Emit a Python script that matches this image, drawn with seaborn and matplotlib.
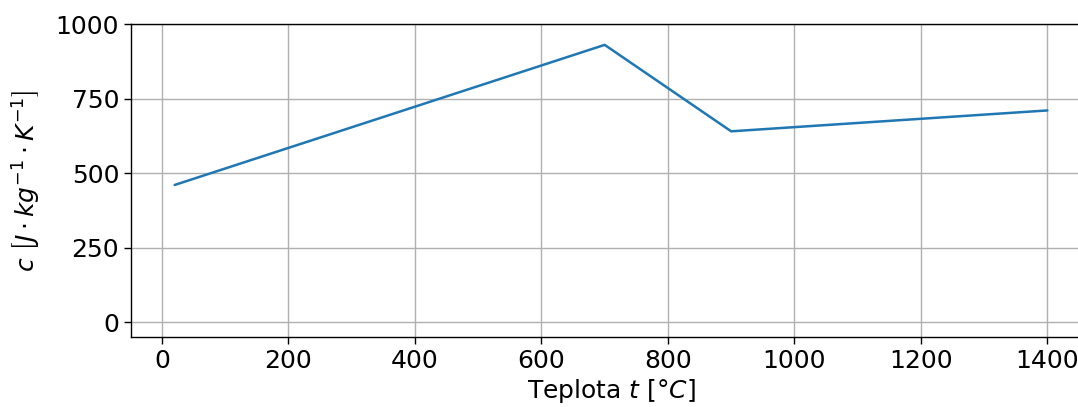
import matplotlib
matplotlib.use("Agg")
import matplotlib.pyplot as plt
import seaborn as sns
import pandas as pd

sns.set_style("ticks")
plt.rcParams['font.family'] = ['DejaVu Sans']
plt.rcParams['mathtext.fontset'] = 'dejavusans'
plt.rcParams['text.color'] = 'black'
plt.rcParams['axes.labelcolor'] = 'black'
plt.rcParams['xtick.color'] = 'black'
plt.rcParams['ytick.color'] = 'black'

# specific heat of steel vs temperature
teplota = [20, 700, 900, 1400]
c_values = [460, 930, 640, 710]

df = pd.DataFrame({"t": teplota, "c": c_values})

fig = plt.figure(figsize=(10.78, 4.07), dpi=100)
# axes runs past the right edge like in the cropped original
ax = fig.add_axes([131 / 1078, (407 - 337) / 407, (1091 - 131) / 1078, (337 - 24) / 407])

sns.lineplot(data=df, x="t", y="c", ax=ax, color="#1f77b4", linewidth=1.8)

ax.set_xlim(-49, 1469)
ax.set_ylim(-50, 1000)
ax.set_xticks([0, 200, 400, 600, 800, 1000, 1200, 1400])
ax.set_yticks([0, 250, 500, 750, 1000])
ax.grid(True, color="#b0b0b0", linewidth=1.0)
ax.set_axisbelow(True)
for side in ["left", "bottom", "top", "right"]:
    ax.spines[side].set_visible(True)
    ax.spines[side].set_color("black")
    ax.spines[side].set_linewidth(1.0)
ax.tick_params(axis="both", labelsize=18, length=5, width=1,
               color="black", labelcolor="black", direction="out")

ax.set_xlabel(r"Teplota $t$ [$°C$]", fontsize=18, labelpad=3, color="black")
ax.set_ylabel(r"$c\ \left[J \cdot kg^{-1} \cdot K^{-1}\right]$", fontsize=18,
              labelpad=9, color="black")

fig.savefig("out.png", dpi=100)
